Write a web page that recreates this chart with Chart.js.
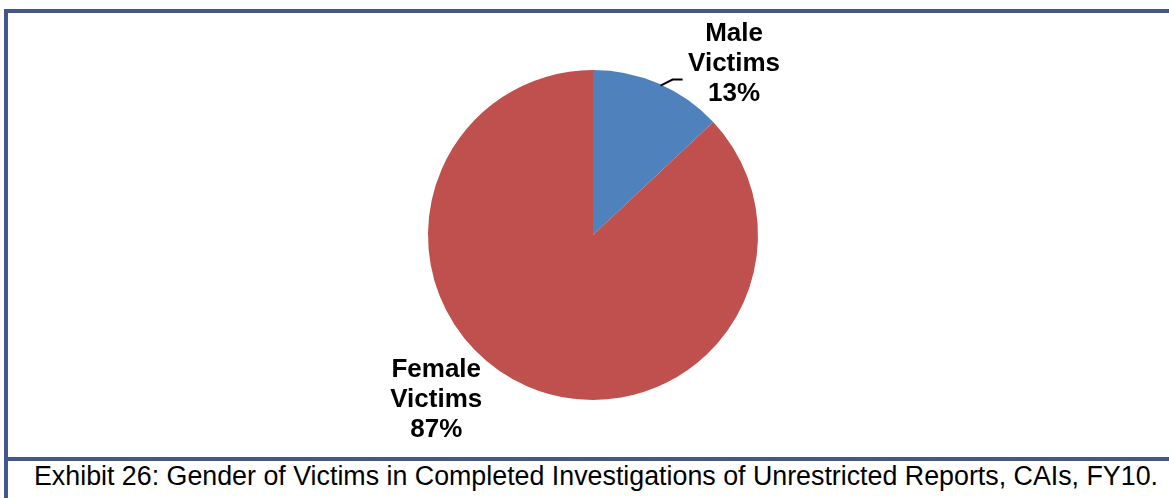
<!DOCTYPE html>
<html>
<head>
<meta charset="utf-8">
<script src="https://cdn.jsdelivr.net/npm/chart.js@4.4.0/dist/chart.umd.min.js"></script>
<style>
  html, body { margin: 0; padding: 0; background: #fff; }
  body { width: 1169px; height: 498px; position: relative; overflow: hidden; font-family: "Liberation Sans", Arial, sans-serif; }
  .frame-left { position: absolute; left: 4px; top: 9px; width: 4px; height: 489px; background: #44578b; }
  .frame-top { position: absolute; left: 4px; top: 9px; width: 1165px; height: 4px; background: #44578b; }
  .frame-mid { position: absolute; left: 4px; top: 457px; width: 1165px; height: 4px; background: #44578b; }
  .caption { position: absolute; left: 34px; top: 461px; font-size: 26.8px; line-height: 30px; color: #000; white-space: nowrap; }
  #wrap { position: absolute; left: 0; top: 0; width: 1169px; height: 498px; }
</style>
</head>
<body>
<div class="frame-left"></div>
<div class="frame-top"></div>
<div class="frame-mid"></div>
<div class="caption">Exhibit 26: Gender of Victims in Completed Investigations of Unrestricted Reports, CAIs, FY10.</div>
<div id="wrap"><canvas id="pie"></canvas></div>
<script>
// Datos del gráfico
const categories = ['Male Victims', 'Female Victims'];
const values = [13, 87];
const colors = ['#4f81bd', '#c0504d'];

// Etiquetas con líneas (nombre en dos líneas + porcentaje)
const labelPlugin = {
    id: 'pieLabels',
    afterDatasetsDraw(chart) {
        const ctx = chart.ctx;
        const arcs = chart.getDatasetMeta(0).data;
        const cx = arcs[0].x, cy = arcs[0].y, r = arcs[0].outerRadius;
        const total = values.reduce((a, b) => a + b, 0);

        ctx.save();
        ctx.fillStyle = '#000';
        ctx.font = 'bold 26px "Liberation Sans", Arial, sans-serif';
        ctx.textAlign = 'center';
        ctx.textBaseline = 'middle';

        // posiciones relativas al centro del pastel
        const spots = [
            { x: cx + r * 0.855, y: cy - r * 1.04 },
            { x: cx - r * 0.95, y: cy + r * 1.0 }
        ];
        categories.forEach((cat, i) => {
            const parts = cat.split(' ');
            const pct = Math.round(values[i] / total * 100) + '%';
            const lines = [parts[0], parts[1], pct];
            lines.forEach((t, j) => {
                ctx.fillText(t, spots[i].x, spots[i].y + (j - 1) * 30);
            });
        });

        // línea guía para Male
        const a = arcs[0];
        const ang = a.startAngle + (a.endAngle - a.startAngle) * 0.52;
        const sx = cx + Math.cos(ang) * (r - 1);
        const sy = cy + Math.sin(ang) * (r - 1);
        ctx.strokeStyle = '#000';
        ctx.lineWidth = 2;
        ctx.beginPath();
        ctx.moveTo(sx, sy);
        ctx.lineTo(sx + 12, sy - 6);
        ctx.lineTo(sx + 22, sy - 6);
        ctx.stroke();
        ctx.restore();
    }
};

new Chart(document.getElementById('pie'), {
    type: 'pie',
    data: {
        labels: categories,
        datasets: [{
            data: values,
            backgroundColor: colors,
            borderWidth: 0
        }]
    },
    options: {
        responsive: true,
        maintainAspectRatio: false,
        animation: false,
        layout: { padding: { left: 428, right: 411, top: 70, bottom: 98 } },
        plugins: { legend: { display: false }, tooltip: { enabled: false } }
    },
    plugins: [labelPlugin]
});
</script>
</body>
</html>
